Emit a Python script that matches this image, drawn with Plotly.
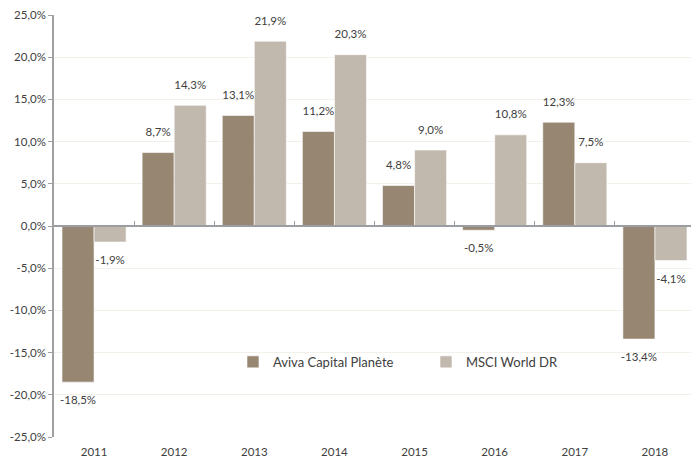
import plotly.graph_objects as go

years = ["2011", "2012", "2013", "2014", "2015", "2016", "2017", "2018"]
aviva = [-18.5, 8.7, 13.1, 11.2, 4.8, -0.5, 12.3, -13.4]
msci = [-1.9, 14.3, 21.9, 20.3, 9.0, 10.8, 7.5, -4.1]
series_names = ["Aviva Capital Planète", "MSCI World DR"]
y_ticks = [-25, -20, -15, -10, -5, 0, 5, 10, 15, 20, 25]

def fr(v):
    return f"{v:.1f}".replace(".", ",") + "%"

FONT = "Lato, 'Open Sans', sans-serif"
TXT = "#404040"

fig = go.Figure()
series = [(series_names[0], aviva, "#978672"), (series_names[1], msci, "#c2b9ae")]
for name, vals, col in series:
    fig.add_trace(go.Bar(
        x=years, y=vals, name=name,
        marker=dict(color=col, line=dict(color="white", width=0.6)),
        hoverinfo="x+y",
    ))
# data labels, grouped like the bars, with a larger offset from the bar ends
for name, vals, col in series:
    fig.add_trace(go.Scatter(
        x=years, y=vals, mode="markers+text", showlegend=False, hoverinfo="skip",
        marker=dict(size=20, opacity=0, color=col),
        text=[fr(v) for v in vals],
        textposition=["top center" if v >= 0 else "bottom center" for v in vals],
        textfont=dict(family=FONT, size=11.5, color=TXT),
        cliponaxis=False,
    ))

# invisible trace to carry the zero-crossing category axis
fig.add_trace(go.Scatter(x=years, y=[None] * len(years), xaxis="x2",
                         showlegend=False, hoverinfo="skip"))

fig.update_layout(
    width=691, height=459,
    margin=dict(l=54, r=0, t=15, b=22),
    paper_bgcolor="white", plot_bgcolor="white",
    barmode="group", bargap=0.2, bargroupgap=0,
    scattermode="group", scattergap=0.2,
    font=dict(family=FONT, size=11.5, color=TXT),
    showlegend=True,
    legend=dict(orientation="h", x=0.281, y=0.178, xanchor="left", yanchor="middle",
                bgcolor="rgba(0,0,0,0)", font=dict(family=FONT, size=13, color=TXT),
                entrywidth=148, itemwidth=30),
    xaxis=dict(type="category", range=[-0.5, 7.45], showline=False, showgrid=False,
               ticks="", tickfont=dict(family=FONT, size=11.5, color=TXT), ticklabelstandoff=6),
    xaxis2=dict(type="category", matches="x", overlaying="x", anchor="free", position=0.5,
                showline=True, linecolor="#9a9ea3", linewidth=1.5,
                ticks="inside", tickson="boundaries", ticklen=4, tickcolor="#9a9ea3",
                showticklabels=False, showgrid=False),
    yaxis=dict(range=[-25, 25], tickvals=y_ticks, ticktext=[fr(v) for v in y_ticks],
               showline=True, linecolor="#a0a0a0", linewidth=1.5,
               ticks="outside", ticklen=4, tickcolor="#a0a0a0",
               showgrid=True, gridcolor="#f2f0e8", gridwidth=1, zeroline=False,
               tickfont=dict(family=FONT, size=11.5, color=TXT)),
)

fig.write_html("out.html", config={"displayModeBar": False},
               post_script="document.body.style.margin='0';")
